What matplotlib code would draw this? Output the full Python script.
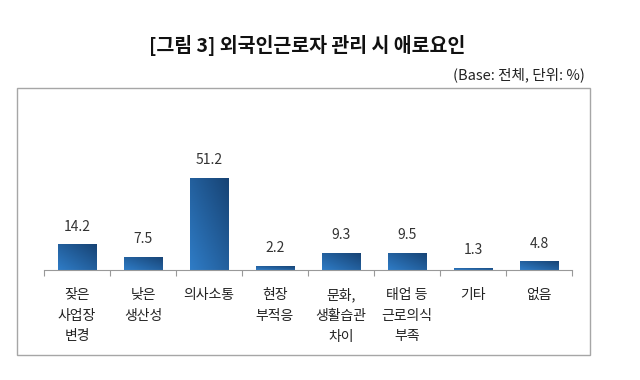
import numpy as np
import matplotlib
matplotlib.use("Agg")
from matplotlib import pyplot as plt
from matplotlib.colors import LinearSegmentedColormap
from matplotlib.patches import Rectangle

plt.rcParams['font.family'] = ['Noto Sans CJK KR', 'DejaVu Sans']

categories = ["잦은\n사업장\n변경", "낮은\n생산성", "의사소통", "현장\n부적응",
              "문화,\n생활습관\n차이", "태업 등\n근로의식\n부족", "기타", "없음"]
values = [14.2, 7.5, 51.2, 2.2, 9.3, 9.5, 1.3, 4.8]

title = "[그림 3] 외국인근로자 관리 시 애로요인"
subtitle = "(Base: 전체, 단위: %)"


def main():
    fig = plt.figure(figsize=(6.4, 3.8), dpi=100)
    W, H = 640, 380

    # outer frame
    fig.patches.append(Rectangle((17 / W, 1 - 355 / H), 573 / W, 267 / H,
                                 transform=fig.transFigure, fill=False,
                                 edgecolor="#a6a6a6", linewidth=1.0))

    fig.text(307 / W, 1 - 45 / H, title, ha="center", va="center",
             fontsize=14, fontweight="bold", color="#111111")
    fig.text(585 / W, 1 - 75 / H, subtitle, ha="right", va="center",
             fontsize=10.5, color="#222222")

    ax = fig.add_axes([44 / W, 1 - 270 / H, 528 / W, 108 / H])
    x = np.arange(len(values))
    bars = ax.bar(x, values, width=0.58, color="none", edgecolor="none")

    cmap = LinearSegmentedColormap.from_list("g", ["#2f7cc6", "#174374"])
    grad = np.add.outer(np.linspace(1, 0, 50), np.linspace(0, 1, 50)) / 2
    for b, v in zip(bars, values):
        x0, w = b.get_x(), b.get_width()
        im = ax.imshow(grad, cmap=cmap, extent=(x0, x0 + w, 0, v),
                       aspect="auto", origin="upper", zorder=2)
        im.set_clip_path(b)
        ax.text(b.get_x() + w / 2, v + 6, f"{v:.1f}", ha="center",
                va="bottom", fontsize=10, color="#333333")

    ax.set_xlim(-0.5, len(values) - 0.5)
    ax.set_ylim(0, 60)
    for s in ["top", "left", "right"]:
        ax.spines[s].set_visible(False)
    ax.spines["bottom"].set_color("#999999")
    ax.set_yticks([])
    ax.set_xticks(np.arange(-0.5, len(values), 1.0))
    ax.set_xticklabels([])
    ax.tick_params(axis="x", length=4, color="#999999", direction="out")

    for i, lab in enumerate(categories):
        ax.annotate(lab, xy=(i, 0), xytext=(0, -13), textcoords="offset points",
                    ha="center", va="top", fontsize=10, color="#222222",
                    linespacing=1.6, annotation_clip=False)

    fig.savefig("out.png", dpi=100)


if __name__ == "__main__":
    main()
